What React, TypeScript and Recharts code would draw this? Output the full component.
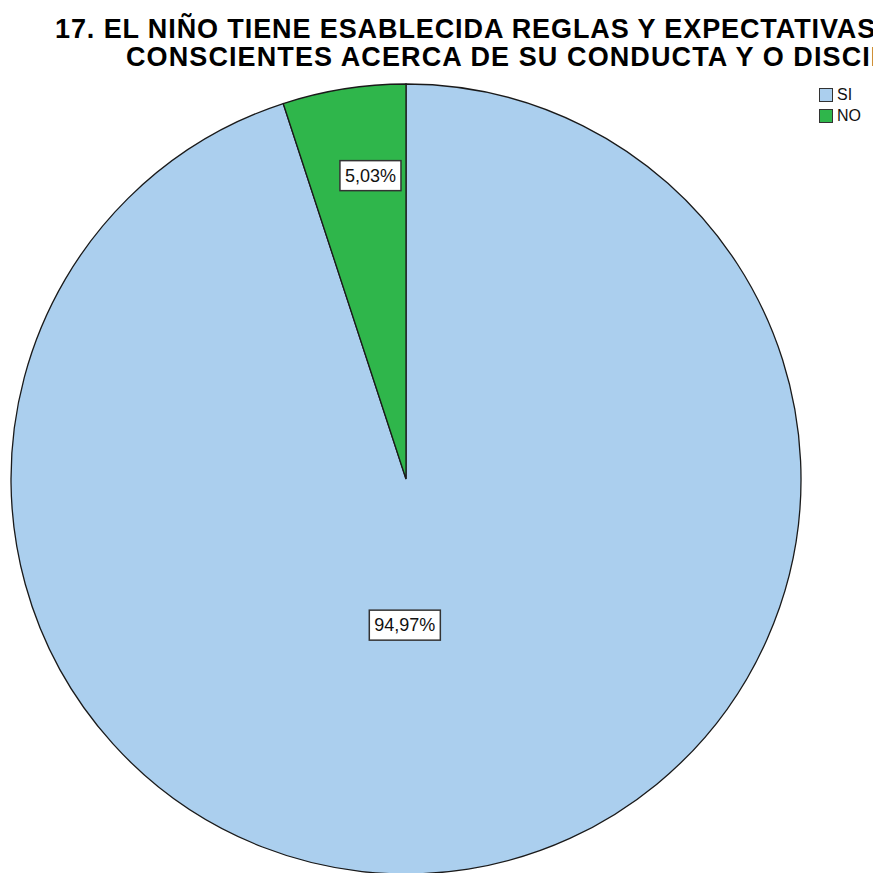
import React from "react";
import { PieChart, Pie, Cell, Legend } from "recharts";

const categories = ["SI", "NO"];
const percents = [94.97, 5.03];
const colors = ["#abcfee", "#2fb64b"];

const titleLines = [
    "17. EL NIÑO TIENE ESABLECIDA REGLAS Y EXPECTATIVAS CLARAS Y",
    "CONSCIENTES ACERCA DE SU CONDUCTA Y O DISCIPLINA",
];

const chartData = categories.map((name, i) => ({ name, value: percents[i] }));

// label placement as a fraction of the radius, relative to the centre
const labelPos = [
    { fx: -0.003, fy: 0.37 },
    { fx: -0.09, fy: -0.768 },
];

const charW = (c: string) => {
    if (c === ",") return 0.278;
    if (c === "%") return 0.889;
    return 0.556;
};

const renderLabel = (props: any) => {
    const { cx, cy, outerRadius, index, value } = props;
    const text = Number(value).toFixed(2).replace(".", ",") + "%";
    const fs = 18;
    const w = text.split("").reduce((s, c) => s + charW(c) * fs, 0) + 10;
    const h = 30;
    const x = cx + labelPos[index].fx * outerRadius;
    const y = cy + labelPos[index].fy * outerRadius;
    return (
        <g>
            <rect
                x={x - w / 2}
                y={y - h / 2}
                width={w}
                height={h}
                fill="#fff"
                stroke="#333"
                strokeWidth={1.5}
            />
            <text
                x={x}
                y={y}
                textAnchor="middle"
                dominantBaseline="central"
                fontFamily="'Liberation Sans', Arial, sans-serif"
                fontSize={fs}
                fill="#111"
            >
                {text}
            </text>
        </g>
    );
};

const renderLegend = () => (
    <div style={{ fontFamily: "'Liberation Sans', Arial, sans-serif", fontSize: 16 }}>
        {categories.map((c, i) => (
            <div key={c} style={{ display: "flex", alignItems: "center", height: 21 }}>
                <span
                    style={{
                        display: "inline-block",
                        width: 12,
                        height: 12,
                        background: colors[i],
                        border: "1px solid #333",
                        marginRight: 4,
                    }}
                />
                <span style={{ color: "#111" }}>{c}</span>
            </div>
        ))}
    </div>
);

const App = () => {
    return (
        <div
            style={{
                position: "absolute",
                left: 0,
                top: 0,
                width: 873,
                height: 873,
                overflow: "hidden",
                background: "#fff",
            }}
        >
            {/* título */}
            <div
                style={{
                    position: "absolute",
                    left: 55,
                    top: 15,
                    whiteSpace: "nowrap",
                    fontFamily: "'Liberation Sans', Arial, sans-serif",
                    fontWeight: "bold",
                    fontSize: 27,
                    letterSpacing: "0.9px",
                    lineHeight: "28px",
                    color: "#000",
                    zIndex: 2,
                }}
            >
                <div>{titleLines[0]}</div>
                <div style={{ marginLeft: 71, letterSpacing: "1.1px" }}>{titleLines[1]}</div>
            </div>
            <PieChart width={873} height={873} margin={{ top: 0, right: 0, bottom: 0, left: 0 }}>
                <Pie
                    data={chartData}
                    dataKey="value"
                    nameKey="name"
                    cx={406}
                    cy={479}
                    outerRadius={395}
                    startAngle={90}
                    endAngle={-270}
                    stroke="#1a1a1a"
                    strokeWidth={1.3}
                    label={renderLabel}
                    labelLine={false}
                    isAnimationActive={false}
                >
                    {chartData.map((d, i) => (
                        <Cell key={d.name} fill={colors[i]} />
                    ))}
                </Pie>
                <Legend
                    content={renderLegend}
                    layout="vertical"
                    verticalAlign="top"
                    align="right"
                    wrapperStyle={{ top: 84, left: 819, width: 54 }}
                />
            </PieChart>
        </div>
    );
};

export default App;
